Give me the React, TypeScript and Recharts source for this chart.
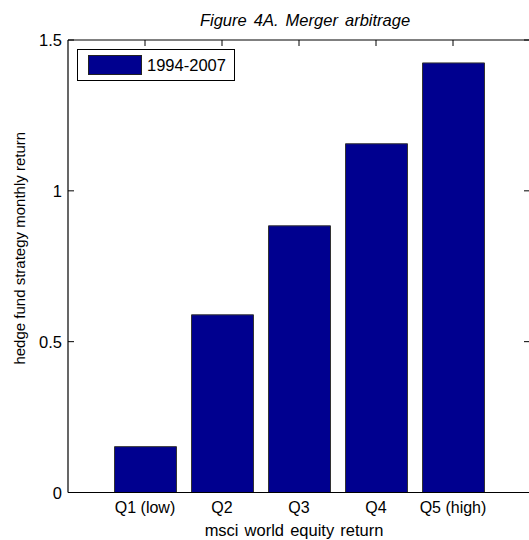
import React from "react";
import { BarChart, Bar, XAxis, YAxis, Legend } from "recharts";

// Quintiles of the MSCI world equity return
const quintiles = ["Q1 (low)", "Q2", "Q3", "Q4", "Q5 (high)"];
// Average merger arbitrage monthly return per quintile, 1994-2007
const returns1994to2007 = [0.152, 0.589, 0.884, 1.156, 1.424];
const yTicks = [0, 0.5, 1, 1.5];

const data = quintiles.map((q, i) => ({ quintile: q, r: returns1994to2007[i] }));

const FONT = "Arial, 'Liberation Sans', Helvetica, sans-serif";
const NAVY = "#00008f";
const TICK = 6;

const fmt = (v: number) => String(v);

const LeftTick = (props: any) => {
  const { x, y, payload } = props;
  return (
    <g>
      <line x1={x} y1={y} x2={x + TICK} y2={y} stroke="#000" strokeWidth={1} />
      <text x={x - 6} y={y} textAnchor="end" dominantBaseline="central" fontSize={16.5} fontFamily={FONT} fill="#000">
        {fmt(payload.value)}
      </text>
    </g>
  );
};

const RightTick = (props: any) => {
  const { x, y } = props;
  return <line x1={x - TICK} y1={y} x2={x} y2={y} stroke="#000" strokeWidth={1} />;
};

const TopTick = (props: any) => {
  const { x, y } = props;
  return <line x1={x} y1={y} x2={x} y2={y + TICK} stroke="#000" strokeWidth={1} />;
};

const BottomTick = (props: any) => {
  const { x, y, payload } = props;
  return (
    <text x={x} y={y + 20} textAnchor="middle" fontSize={16} fontFamily={FONT} fill="#000">
      {payload.value}
    </text>
  );
};

const LegendBox = (props: any) => {
  const item = (props.payload || [])[0];
  return (
    <div
      style={{
        boxSizing: "border-box",
        width: 158,
        height: 32,
        border: "1px solid #000",
        background: "#fff",
        display: "flex",
        alignItems: "center",
        fontFamily: FONT,
        fontSize: 16.5,
        color: "#000",
      }}
    >
      <span
        style={{
          display: "inline-block",
          boxSizing: "border-box",
          marginLeft: 10,
          width: 54,
          height: 20,
          background: NAVY,
          border: "1px solid #222",
        }}
      />
      <span style={{ marginLeft: 5 }}>{item ? item.value : ""}</span>
    </div>
  );
};

export default function App() {
  return (
    <div
      style={{
        position: "absolute",
        left: 0,
        top: 0,
        width: 529,
        height: 540,
        overflow: "hidden",
        background: "#fff",
        fontFamily: FONT,
      }}
    >
      <BarChart
        width={531}
        height={540}
        data={data}
        margin={{ top: 39, right: 0, left: 67, bottom: 46.5 }}
        barSize={62}
      >
        <XAxis
          dataKey="quintile"
          xAxisId="bottom"
          orientation="bottom"
          height={1}
          padding={{ left: 38.5, right: 38.5 }}
          axisLine={{ stroke: "#000", strokeWidth: 1.2 }}
          tickLine={false}
          tickSize={0}
          tickMargin={0}
          tick={<BottomTick />}
          interval={0}
          label={{
            content: (p: any) => {
              const vb = p.viewBox;
              return (
                <text
                  x={vb.x + vb.width / 2 - 5}
                  y={vb.y + 43.5}
                  textAnchor="middle"
                  fontSize={16.5}
                  wordSpacing={1.5}
                  fontFamily={FONT}
                  fill="#000"
                >
                  msci world equity return
                </text>
              );
            },
          }}
        />
        <XAxis
          dataKey="quintile"
          xAxisId="top"
          orientation="top"
          height={1}
          padding={{ left: 38.5, right: 38.5 }}
          axisLine={{ stroke: "#000", strokeWidth: 1 }}
          tickLine={false}
          tickSize={0}
          tickMargin={0}
          tick={<TopTick />}
          interval={0}
          label={{
            content: (p: any) => {
              const vb = p.viewBox;
              return (
                <text
                  x={vb.x + vb.width / 2 + 6}
                  y={vb.y + vb.height - 14}
                  textAnchor="middle"
                  fontSize={16.5}
                  wordSpacing={2.5}
                  fontStyle="italic"
                  fontFamily={FONT}
                  fill="#000"
                >
                  Figure 4A. Merger arbitrage
                </text>
              );
            },
          }}
        />
        <YAxis
          yAxisId="left"
          orientation="left"
          width={1}
          domain={[0, 1.5]}
          ticks={yTicks}
          allowDataOverflow
          axisLine={{ stroke: "#000", strokeWidth: 1.2 }}
          tickLine={false}
          tickSize={0}
          tickMargin={0}
          tick={<LeftTick />}
          label={{
            content: (p: any) => {
              const vb = p.viewBox;
              const cx = vb.x + vb.width - 43;
              const cy = vb.y + vb.height / 2 - 18;
              return (
                <text
                  x={cx}
                  y={cy}
                  transform={`rotate(-90, ${cx}, ${cy})`}
                  textAnchor="middle"
                  fontSize={15}
                  fontFamily={FONT}
                  fill="#000"
                >
                  hedge fund strategy monthly return
                </text>
              );
            },
          }}
        />
        <YAxis
          yAxisId="right"
          orientation="right"
          width={1}
          domain={[0, 1.5]}
          ticks={yTicks}
          allowDataOverflow
          axisLine={{ stroke: "#000", strokeWidth: 1 }}
          tickLine={false}
          tickSize={0}
          tickMargin={0}
          tick={<RightTick />}
        />
        <Legend
          layout="horizontal"
          verticalAlign="middle"
          align="center"
          content={<LegendBox />}
          wrapperStyle={{ position: "absolute", left: 77, top: 49, width: "auto", height: "auto" }}
        />
        <Bar
          dataKey="r"
          name="1994-2007"
          xAxisId="bottom"
          yAxisId="left"
          fill={NAVY}
          stroke="#333"
          strokeWidth={1}
          isAnimationActive={false}
        />
      </BarChart>
    </div>
  );
}
